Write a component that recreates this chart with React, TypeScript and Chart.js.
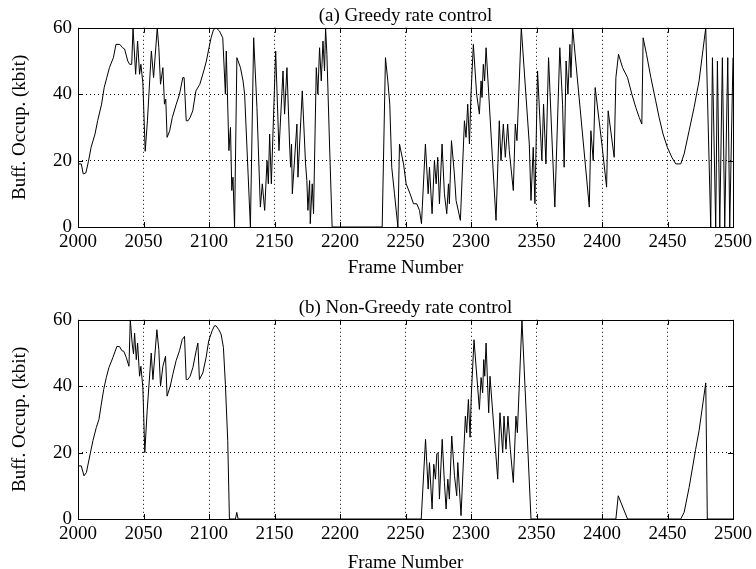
import React, { useEffect, useRef } from "react";
import { Chart, registerables } from "chart.js";

Chart.register(...registerables);

// Axis ranges and tick positions
const FRAME_MIN = 2000;
const FRAME_MAX = 2500;
const frameTicks = [2000, 2050, 2100, 2150, 2200, 2250, 2300, 2350, 2400, 2450, 2500];
const kbitTicks = [0, 20, 40, 60];

// (a) Greedy rate control: buffer occupancy per frame (kbit)
const greedyFrames = [
  2000, 2002.5, 2004, 2006, 2008, 2010, 2013, 2015, 2018, 2020, 2022, 2024, 2027, 2029, 2032, 2034,
  2035.6, 2038, 2039.4, 2041, 2042, 2044, 2045.5, 2047, 2048, 2049.5, 2051.3, 2053, 2056, 2057.7,
  2060.5, 2061.7, 2063, 2064.8, 2066, 2067, 2068, 2070, 2072, 2075, 2077.5, 2080, 2081, 2082.6, 2084,
  2085.6, 2087.6, 2090, 2093, 2096, 2098, 2100, 2101.6, 2103.4, 2105.4, 2108, 2110.5, 2112.5, 2113.2,
  2115.2, 2116.4, 2117.4, 2118.3, 2119.5, 2121.3, 2124, 2126, 2127.2, 2131.6, 2134.1, 2136.6, 2139.2,
  2140.7, 2142.5, 2144.3, 2145.3, 2146.3, 2147.6, 2149.3, 2150.9, 2153.4, 2156.5, 2157.7, 2159.5,
  2161.5, 2162.3, 2163, 2163.6, 2167.1, 2167.9, 2171.2, 2173.7, 2174.7, 2175.5, 2176.8, 2177.3, 2178.8,
  2179.8, 2181.9, 2183.1, 2184.4, 2185.7, 2187, 2188.2, 2189, 2190, 2192, 2194, 2232.2, 2234.7, 2236.5,
  2238, 2239.5, 2241.6, 2244.2, 2245.4, 2248.5, 2250.5, 2253.5, 2256.1, 2258.6, 2260.7, 2262.2, 2265.2,
  2267.3, 2268.3, 2270.3, 2272.1, 2273.4, 2274.6, 2275.9, 2277.9, 2279.7, 2281.5, 2282.8, 2283.5,
  2285.1, 2287.3, 2288.6, 2291.9, 2295, 2296.2, 2297.5, 2298.8, 2300, 2301.8, 2304.3, 2306.4, 2307.7,
  2308.4, 2309.4, 2310.4, 2311.5, 2319.1, 2321.6, 2322.9, 2324.7, 2326.2, 2328, 2329.2, 2332.3, 2333.8,
  2335.1, 2338.4, 2344.5, 2345.8, 2347.5, 2348.8, 2350.8, 2354.1, 2355.4, 2357.2, 2359.2, 2364, 2367.8,
  2369.9, 2371.1, 2372.6, 2374, 2375.5, 2376.3, 2377.6, 2390.3, 2391.5, 2393.3, 2394.8, 2399.9, 2403.5,
  2404.7, 2409.3, 2410.6, 2412.6, 2415.7, 2419.5, 2422.8, 2425.8, 2428.4, 2430.4, 2431.4, 2434, 2437.3,
  2441, 2443.6, 2446.6, 2449.9, 2453.3, 2456.3, 2460.1, 2462.7, 2466.5, 2470.3, 2474.1, 2479.2, 2483,
  2484.3, 2486.8, 2488.1, 2489.9, 2491.9, 2493.7, 2496, 2497.5, 2500,
];
const greedyKbit = [
  19, 19, 16, 16.3, 19.8, 24, 28, 32, 37, 42, 45, 48, 51, 55, 55, 54,
  53.6, 50, 49, 49, 60, 46, 56, 46, 49, 43.4, 22.8, 32, 53, 45,
  60, 54, 43, 48, 37, 38.5, 27, 29, 33, 37, 40, 45, 45, 32, 32,
  33, 35, 41, 43, 47, 50, 54, 57, 59.4, 60, 59, 57, 40, 53,
  23, 30, 11, 15, 0, 51, 48, 44, 40, 0, 57, 36, 6,
  13, 5, 20, 13, 28, 13, 34, 53, 23, 47, 34, 48,
  25, 18, 25, 10, 31, 15, 41, 19, 14, 5, 14, 1, 13,
  4, 48, 40, 54, 44, 56, 47, 60, 52, 25, 0, 0, 51, 44,
  37, 18, 10, 0, 25, 19, 13, 10, 7, 7, 5, 1, 25,
  10, 18, 4, 20, 13, 21, 7, 25, 10, 4, 13, 7,
  26, 16, 8, 2, 32, 27, 37, 25, 40, 55, 40, 34, 44,
  39, 49, 44, 54, 2, 32, 20, 31, 21, 31, 23, 11, 31,
  26, 60, 25, 8, 24, 7, 47, 20, 37, 19, 51, 6, 54,
  37, 18, 50, 40, 55, 45, 60, 6, 29, 20, 42, 25, 12,
  35, 21, 45, 52, 48, 45, 40, 36, 33, 31, 57, 52, 45,
  38, 33, 28, 24, 21, 19, 19, 22, 29, 36, 44, 60, 0,
  51, 0, 50, 0, 51, 0, 51, 0, 51,
];

// (b) Non-Greedy rate control: buffer occupancy per frame (kbit)
const nonGreedyFrames = [
  2000, 2002.5, 2004.6, 2006.4, 2009, 2011.4, 2014, 2016, 2017.8, 2019.6, 2021.6, 2023.6, 2026.7,
  2029.7, 2031.8, 2033.5, 2035, 2036.8, 2038.9, 2039.9, 2041.4, 2042.4, 2043.2, 2044.5, 2045.5, 2047,
  2048, 2049.5, 2051, 2052.8, 2055.9, 2057.2, 2060.2, 2061.7, 2063, 2064.8, 2066.8, 2068, 2070.4,
  2072.4, 2074.9, 2077.5, 2079.5, 2081.3, 2082.6, 2083.8, 2085.6, 2087.7, 2090.2, 2091.5, 2092.7,
  2095.3, 2097.8, 2099.8, 2102.4, 2104.2, 2105.4, 2107.5, 2109.2, 2111, 2112.5, 2114.3, 2115.6, 2120.2,
  2121.2, 2122.2, 2262, 2265.3, 2267.3, 2268.3, 2270.3, 2271.6, 2272.9, 2273.9, 2274.9, 2275.9, 2278,
  2279.7, 2281, 2282.3, 2283.5, 2285.3, 2287.4, 2289.1, 2289.9, 2292.4, 2295.7, 2296.7, 2298, 2299.3,
  2300.2, 2302.3, 2306.4, 2307.7, 2308.9, 2309.7, 2310.5, 2311.5, 2313.5, 2314.5, 2320.4, 2322.1,
  2324.2, 2325.2, 2326.7, 2328.2, 2330, 2332.3, 2334.3, 2335.4, 2338.9, 2345.8, 2410.6, 2412.4, 2419.5,
  2460.1, 2462.7, 2466.5, 2471.5, 2474.1, 2479.2, 2480.4, 2500,
];
const nonGreedyKbit = [
  16, 16, 13, 14, 19, 23.6, 27.6, 30, 34.6, 39, 42.6, 45.6, 48.7,
  52, 51.9, 50.7, 50.5, 48.7, 46, 60, 52.7, 49.7, 56, 48, 53, 43,
  46, 39.6, 20, 32.6, 50, 42, 57, 51, 40, 46, 49, 37, 40,
  43.6, 47.7, 50.7, 54, 55, 42, 42, 43, 45.6, 50.7, 53, 42,
  44, 48.7, 53.7, 56.7, 58.2, 58.2, 57, 55.7, 51.7, 40.6, 23.6, 0, 0,
  2, 0, 0, 24, 9, 17, 3, 16.5, 12, 19.6, 20, 6, 24,
  11, 3, 12, 6, 25, 13, 7, 17, 1, 31, 26, 36, 24.6,
  37, 54, 33, 42.6, 38, 48, 43, 53, 32, 43, 12, 32,
  20, 31, 21, 31, 21, 11, 31, 26, 60, 0, 0, 7, 0,
  0, 2, 9.5, 21, 26.6, 41, 0, 0,
];

const SERIF = "'Liberation Serif', 'Times New Roman', Times, serif";
const FONT_SIZE = 19;

// Solid box round the plot area plus short inward tick marks on all four sides
const boxPlugin = {
  id: "plotBox",
  afterDraw(chart: any) {
    const { ctx, chartArea, scales } = chart;
    const { left, right, top, bottom } = chartArea;
    const len = 5;
    ctx.save();
    ctx.strokeStyle = "#000";
    ctx.lineWidth = 1;
    ctx.setLineDash([]);
    ctx.strokeRect(Math.round(left) + 0.5, Math.round(top) + 0.5, Math.round(right - left), Math.round(bottom - top));
    ctx.beginPath();
    for (const t of frameTicks) {
      const x = Math.round(scales.x.getPixelForValue(t)) + 0.5;
      ctx.moveTo(x, bottom);
      ctx.lineTo(x, bottom - len);
      ctx.moveTo(x, top);
      ctx.lineTo(x, top + len);
    }
    for (const v of kbitTicks) {
      const y = Math.round(scales.y.getPixelForValue(v)) + 0.5;
      ctx.moveTo(left, y);
      ctx.lineTo(left + len, y);
      ctx.moveTo(right, y);
      ctx.lineTo(right - len, y);
    }
    ctx.stroke();
    ctx.restore();
  },
};

function makeConfig(title: string, frames: number[], kbit: number[], xTitlePad: number): any {
  const points = frames.map((f, i) => ({ x: f, y: kbit[i] }));
  const font = { family: SERIF, size: FONT_SIZE, weight: "normal" as const };
  return {
    type: "line",
    data: {
      datasets: [
        {
          data: points,
          borderColor: "#000",
          borderWidth: 1,
          pointRadius: 0,
          tension: 0,
          fill: false,
        },
      ],
    },
    options: {
      animation: false,
      responsive: false,
      devicePixelRatio: 1,
      layout: { padding: { left: 0, right: 22, top: 0, bottom: 0 } },
      plugins: {
        legend: { display: false },
        tooltip: { enabled: false },
        title: {
          display: true,
          text: title,
          color: "#000",
          font,
          fullSize: false,
          padding: { top: 5, bottom: 0 },
        },
      },
      scales: {
        x: {
          type: "linear",
          min: FRAME_MIN,
          max: FRAME_MAX,
          afterBuildTicks: (s: any) => {
            s.ticks = frameTicks.map((v) => ({ value: v }));
          },
          afterFit: (s: any) => {
            s.height = 65;
          },
          ticks: {
            color: "#000",
            font,
            padding: 4,
            maxRotation: 0,
            autoSkip: false,
            callback: (v: any) => String(v),
          },
          grid: {
            drawTicks: false,
            lineWidth: 1,
            color: (c: any) =>
              c.tick && (c.tick.value === FRAME_MIN || c.tick.value === FRAME_MAX) ? "rgba(0,0,0,0)" : "#000",
          },
          border: { display: false, dash: [1, 3] },
          title: {
            display: true,
            text: "Frame Number",
            color: "#000",
            font,
            padding: { top: 0, bottom: xTitlePad },
          },
        },
        y: {
          type: "linear",
          min: 0,
          max: 60,
          afterBuildTicks: (s: any) => {
            s.ticks = kbitTicks.map((v) => ({ value: v }));
          },
          afterFit: (s: any) => {
            s.width = 78;
          },
          ticks: { color: "#000", font, padding: 6, callback: (v: any) => String(v) },
          grid: {
            drawTicks: false,
            lineWidth: 1,
            color: (c: any) => (c.tick && (c.tick.value === 0 || c.tick.value === 60) ? "rgba(0,0,0,0)" : "#000"),
          },
          border: { display: false, dash: [1, 3] },
          title: {
            display: true,
            text: "Buff. Occup. (kbit)",
            color: "#000",
            font,
            padding: { top: 9, bottom: 0 },
          },
        },
      },
    },
    plugins: [boxPlugin],
  };
}

function Panel({
  title,
  frames,
  kbit,
  top,
  xTitlePad,
}: {
  title: string;
  frames: number[];
  kbit: number[];
  top: number;
  xTitlePad: number;
}) {
  const ref = useRef<HTMLCanvasElement | null>(null);
  useEffect(() => {
    if (!ref.current) return;
    const chart = new Chart(ref.current, makeConfig(title, frames, kbit, xTitlePad));
    return () => chart.destroy();
  }, [title, frames, kbit, xTitlePad]);
  return (
    <canvas
      ref={ref}
      width={756}
      height={292}
      style={{ position: "absolute", left: 0, top, width: 756, height: 292 }}
    />
  );
}

export default function App() {
  return (
    <div
      style={{
        position: "fixed",
        left: 0,
        top: 0,
        width: 756,
        height: 569,
        overflow: "hidden",
        background: "#fff",
      }}
    >
      <Panel title="(a) Greedy rate control" frames={greedyFrames} kbit={greedyKbit} top={0} xTitlePad={13} />
      <Panel
        title="(b) Non-Greedy rate control"
        frames={nonGreedyFrames}
        kbit={nonGreedyKbit}
        top={292}
        xTitlePad={10}
      />
    </div>
  );
}
